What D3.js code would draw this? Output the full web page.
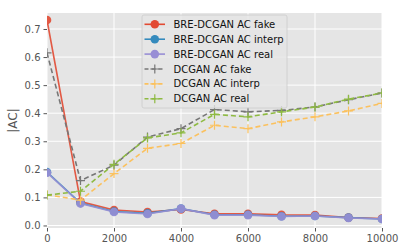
<!DOCTYPE html>
<meta charset="utf-8">
<style>
  body { margin: 0; background: #fff; }
  .axis text { fill: #555; font-size: 10px; font-family: "DejaVu Sans", sans-serif; }
  .axis path { display: none; }
  .axis line { stroke: #555; }
  .grid line { stroke: #fff; stroke-width: 1; }
</style>
<body>
<script src="https://d3js.org/d3.v7.min.js"></script>
<script>
  var steps = [0, 1000, 2000, 3000, 4000, 5000, 6000, 7000, 8000, 9000, 10000]
  var xTicks = [0, 2000, 4000, 6000, 8000, 10000]
  var yTicks = [0.0, 0.1, 0.2, 0.3, 0.4, 0.5, 0.6, 0.7]

  var breFake = [0.732, 0.085, 0.055, 0.048, 0.057, 0.042, 0.042, 0.038, 0.037, 0.028, 0.025]
  var breInterp = [0.190, 0.080, 0.050, 0.043, 0.060, 0.038, 0.038, 0.033, 0.034, 0.028, 0.023]
  var breReal = [0.188, 0.078, 0.048, 0.041, 0.060, 0.037, 0.037, 0.032, 0.034, 0.027, 0.023]
  var dcFake = [0.615, 0.160, 0.215, 0.315, 0.345, 0.413, 0.405, 0.410, 0.422, 0.448, 0.472]
  var dcInterp = [0.110, 0.090, 0.185, 0.275, 0.292, 0.357, 0.345, 0.369, 0.387, 0.408, 0.435]
  var dcReal = [0.108, 0.122, 0.218, 0.312, 0.330, 0.396, 0.387, 0.405, 0.422, 0.450, 0.472]

  var series = [
    { name: 'BRE-DCGAN AC fake', values: breFake, color: '#E24A33', dash: null, marker: 'o' },
    { name: 'BRE-DCGAN AC interp', values: breInterp, color: '#348ABD', dash: null, marker: 'o' },
    { name: 'BRE-DCGAN AC real', values: breReal, color: '#988ED5', dash: null, marker: 'o' },
    { name: 'DCGAN AC fake', values: dcFake, color: '#777777', dash: '5,3', marker: '+' },
    { name: 'DCGAN AC interp', values: dcInterp, color: '#FBC15E', dash: '5,3', marker: '+' },
    { name: 'DCGAN AC real', values: dcReal, color: '#8EBA42', dash: '5,3', marker: '+' }
  ]

  var width = 404
  var height = 252
  var margin = { top: 13, right: 22, bottom: 24, left: 47 }
  var innerW = width - margin.left - margin.right
  var innerH = height - margin.top - margin.bottom

  var x = d3.scaleLinear().domain([0, 10000]).range([0, innerW])
  var y = d3.scaleLinear().domain([-0.009, 0.757]).range([innerH, 0])

  var svg = d3.select('body').append('svg')
    .attr('width', width)
    .attr('height', height)
    .attr('font-family', 'DejaVu Sans, sans-serif')

  svg.append('defs').append('clipPath')
    .attr('id', 'plot-clip')
    .append('rect')
    .attr('width', innerW)
    .attr('height', innerH)

  var g = svg.append('g')
    .attr('transform', 'translate(' + margin.left + ',' + margin.top + ')')

  g.append('rect')
    .attr('width', innerW)
    .attr('height', innerH)
    .attr('fill', '#E5E5E5')

  // grid
  var grid = g.append('g').attr('class', 'grid')
  grid.selectAll('.gx').data(xTicks).enter().append('line')
    .attr('x1', d => x(d)).attr('x2', d => x(d))
    .attr('y1', 0).attr('y2', innerH)
  grid.selectAll('.gy').data(yTicks).enter().append('line')
    .attr('x1', 0).attr('x2', innerW)
    .attr('y1', d => y(d)).attr('y2', d => y(d))

  // axes
  g.append('g')
    .attr('class', 'axis')
    .attr('transform', 'translate(0,' + innerH + ')')
    .call(d3.axisBottom(x).tickValues(xTicks).tickFormat(d3.format('d')).tickSize(3.5).tickPadding(3))

  g.append('g')
    .attr('class', 'axis')
    .call(d3.axisLeft(y).tickValues(yTicks).tickFormat(d3.format('.1f')).tickSize(3.5).tickPadding(3))

  svg.append('text')
    .attr('transform', 'translate(17,' + (margin.top + innerH / 2) + ') rotate(-90)')
    .attr('text-anchor', 'middle')
    .attr('fill', '#555')
    .attr('font-size', '12px')
    .text('|AC|')

  var line = d3.line()
    .x((d, i) => x(steps[i]))
    .y(d => y(d))

  var plot = g.append('g').attr('clip-path', 'url(#plot-clip)')
  function drawMarker(sel, s, cx, cy) {
    if (s.marker === 'o') {
      sel.append('circle')
        .attr('cx', cx).attr('cy', cy).attr('r', 4.3)
        .attr('fill', s.color)
    } else {
      sel.append('path')
        .attr('d', 'M' + (cx - 4.5) + ',' + cy + 'H' + (cx + 4.5) + 'M' + cx + ',' + (cy - 4.5) + 'V' + (cy + 4.5))
        .attr('stroke', s.color)
        .attr('stroke-width', 1.2)
    }
  }

  series.forEach(function (s) {
    var sg = plot.append('g').attr('opacity', s.marker === 'o' ? 0.9 : 1)
    sg.append('path')
      .datum(s.values)
      .attr('d', line)
      .attr('fill', 'none')
      .attr('stroke', s.color)
      .attr('stroke-width', 1.6)
      .attr('stroke-dasharray', s.dash)
    s.values.forEach(function (v, i) {
      drawMarker(sg, s, x(steps[i]), y(v))
    })
  })

  // legend
  var leg = svg.append('g').attr('transform', 'translate(142,15)')
  leg.append('rect')
    .attr('width', 145)
    .attr('height', 93)
    .attr('rx', 2)
    .attr('fill', '#E5E5E5')
    .attr('fill-opacity', 0.8)
    .attr('stroke', '#cccccc')
    .attr('stroke-width', 0.8)

  series.forEach(function (s, i) {
    var ly = 9.3 + i * 14.9
    var row = leg.append('g')
    row.append('line')
      .attr('x1', 2.5).attr('x2', 23)
      .attr('y1', ly).attr('y2', ly)
      .attr('stroke', s.color)
      .attr('stroke-width', 1.6)
      .attr('stroke-dasharray', s.dash ? '4,3' : null)
    drawMarker(row, s, 12.8, ly)
    row.append('text')
      .attr('x', 31.5)
      .attr('y', ly)
      .attr('dy', '0.35em')
      .attr('font-size', '10px')
      .attr('fill', '#111')
      .text(s.name)
  })
</script>
</body>
